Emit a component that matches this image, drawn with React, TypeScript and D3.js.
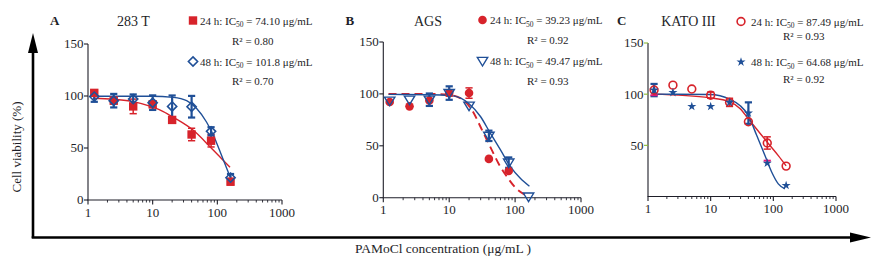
import React from "react";
import * as d3 from "d3";

// ---------- data ----------
const concentrations = [1.25, 2.5, 5, 10, 20, 40, 80, 160];
const xTickValues = [1, 10, 100, 1000];
const xTickLabels = ["1", "10", "100", "1000"];
const yTickValues = [0, 50, 100, 150];

// Panel A – 283 T
const a24Values = [103, 95.5, 90, 92, 77, 63, 57, 17.6];
const a24Errors = [3, 3, 7, 3, 3, 6, 6, 3];
const a48Values = [99.4, 95.5, 97, 93.6, 90, 89.7, 66, 21.5];
const a48Errors = [5, 6.5, 4.5, 7, 10.5, 10.4, 4, 3.5];
const aFit24Conc = [1.2, 2.46, 5, 9.6, 14.6, 20.9, 42.5, 77, 157];
const aFit24Values = [97.8, 96.8, 94.6, 89.7, 85, 79.5, 67, 51.3, 31.4];
const aFit48Conc = [1.2, 9.6, 20.9, 33.5, 47.9, 68, 86.5, 116, 157];
const aFit48Values = [99.8, 99.8, 98.7, 95.5, 88, 75, 62.5, 43, 22.4];

// Panel B – AGS
const b24Values = [92.2, 88, 93.7, 100.8, 100.8, 37.4, 25.8, null];
const b24Errors = [0, 0, 0, 3, 5, 0, 0, 0];
const b48Values = [93.4, 94.4, 94.4, 100.8, 88.6, 59.6, 33.8, 1];
const b48Errors = [0, 0, 6, 6.5, 0, 5, 5, 0];
const bFit24Conc = [1.2, 5, 10, 14.7, 22, 31.4, 42, 56, 75.5, 100, 143];
const bFit24Values = [100, 100, 99, 96, 84.7, 65.4, 49, 33, 20, 10, 2.6];
const bFit48Conc = [1.2, 5, 10, 15, 20, 30, 42, 60, 85, 120, 165];
const bFit48Values = [99.5, 99.2, 98.6, 96, 90.5, 78, 62.2, 46, 30, 18.7, 11];

// Panel C – KATO III
const c24Values = [104, 108.8, 105, 99, 92, 73, 52.3, 29.7];
const c24Errors = [0, 0, 0, 3, 4, 0, 6, 0];
const c48Values = [104, 101.6, 88, 88, 92, 81.5, 32.6, 10.8];
const c48Errors = [6, 0, 0, 0, 0, 10.5, 0, 0];
const cFit24Conc = [1.2, 9.7, 20.3, 29.3, 39.8, 54, 80, 120, 160];
const cFit24Values = [100, 96.4, 92.5, 86, 76, 66, 53, 40, 30];
const cFit48Conc = [1.2, 9.7, 20.3, 29.3, 39.8, 54, 73.5, 94, 120, 153];
const cFit48Values = [100, 99.7, 95, 89, 79.4, 60, 40, 24, 12.4, 7.5];
const cMagentaCapConc = [1.25, 80];
const cMagentaCapValues = [99, 35];

const panelLetters = ["A", "B", "C"];
const panelTitles = ["283 T", "AGS", "KATO III"];
const ic50_24 = ["74.10", "39.23", "87.49"];
const ic50_48 = ["101.8", "49.47", "64.68"];
const r2_24 = ["0.80", "0.92", "0.93"];
const r2_48 = ["0.70", "0.93", "0.92"];

// ---------- styles ----------
const RED = "#d7232b";
const BLUE = "#1f4f97";
const MAGENTA = "#e3177d";
const GREEN = "#8ab832";
const INK = "#1e1e28";
const FONT = "'Liberation Serif', 'Times New Roman', serif";

type PanelCfg = {
  x0: number; x1: number; yTop: number; yBot: number;
  v24: (number | null)[]; e24: number[]; v48: (number | null)[]; e48: number[];
  f24c: number[]; f24v: number[]; f48c: number[]; f48v: number[];
  m24: string; m48: string; dashed24: boolean;
  letterX: number; titleX: number; legMarkX: number; legTextX: number; r2X: number;
  legY: number[]; zeroLabel: boolean; yTickColor: string;
};

const panels: PanelCfg[] = [
  {
    x0: 88, x1: 282, yTop: 44, yBot: 200,
    v24: a24Values, e24: a24Errors, v48: a48Values, e48: a48Errors,
    f24c: aFit24Conc, f24v: aFit24Values, f48c: aFit48Conc, f48v: aFit48Values,
    m24: "square", m48: "diamond", dashed24: false,
    letterX: 50, titleX: 133.5, legMarkX: 193, legTextX: 200, r2X: 232,
    legY: [24.5, 44.5, 65.5, 84.5], zeroLabel: true, yTickColor: INK,
  },
  {
    x0: 383.3, x1: 581, yTop: 42, yBot: 197.7,
    v24: b24Values, e24: b24Errors, v48: b48Values, e48: b48Errors,
    f24c: bFit24Conc, f24v: bFit24Values, f48c: bFit48Conc, f48v: bFit48Values,
    m24: "dot", m48: "tri", dashed24: true,
    letterX: 345.5, titleX: 428, legMarkX: 482.5, legTextX: 490, r2X: 527,
    legY: [24, 43.5, 65, 84.5], zeroLabel: true, yTickColor: INK,
  },
  {
    x0: 648, x1: 836, yTop: 43, yBot: 196.5,
    v24: c24Values, e24: c24Errors, v48: c48Values, e48: c48Errors,
    f24c: cFit24Conc, f24v: cFit24Values, f48c: cFit48Conc, f48v: cFit48Values,
    m24: "ring", m48: "star", dashed24: false,
    letterX: 617, titleX: 688.5, legMarkX: 741, legTextX: 751, r2X: 783,
    legY: [25.5, 39.5, 66, 83], zeroLabel: false, yTickColor: GREEN,
  },
];

function Marker({ type, x, y }: { type: string; x: number; y: number }) {
  switch (type) {
    case "square":
      return <rect x={x - 4.2} y={y - 4.2} width={8.4} height={8.4} fill={RED} />;
    case "diamond":
      return (
        <path d={`M${x},${y - 4.6}L${x + 4.6},${y}L${x},${y + 4.6}L${x - 4.6},${y}Z`}
          fill="none" stroke={BLUE} strokeWidth={1.6} />
      );
    case "dot":
      return <circle cx={x} cy={y} r={4.3} fill={RED} />;
    case "tri":
      return (
        <path d={`M${x - 5.2},${y - 3.6}L${x + 5.2},${y - 3.6}L${x},${y + 5}Z`}
          fill="none" stroke={BLUE} strokeWidth={1.4} />
      );
    case "ring":
      return <circle cx={x} cy={y} r={3.9} fill="none" stroke={RED} strokeWidth={1.6} />;
    case "star":
      return (
        <path d={d3.symbol().type(d3.symbolStar).size(26)() as string}
          transform={`translate(${x},${y})`} fill={BLUE} />
      );
    default:
      return null;
  }
}

function ErrorBars({ vals, errs, xs, ys, color, w }: any) {
  return (
    <g stroke={color} strokeWidth={w} fill="none">
      {concentrations.map((c, i) => {
        const v = vals[i];
        const e = errs[i];
        if (v == null || !e) return null;
        const x = xs(c);
        const yHi = ys(v + e);
        const yLo = ys(v - e);
        return (
          <g key={i}>
            <line x1={x} x2={x} y1={yHi} y2={yLo} />
            <line x1={x - 3.6} x2={x + 3.6} y1={yHi} y2={yHi} />
            <line x1={x - 3.6} x2={x + 3.6} y1={yLo} y2={yLo} />
          </g>
        );
      })}
    </g>
  );
}

function Panel({ p, idx }: { p: PanelCfg; idx: number }) {
  const xs = d3.scaleLog().domain([1, 1000]).range([p.x0, p.x1]);
  const ys = d3.scaleLinear().domain([0, 150]).range([p.yBot, p.yTop]);
  const line = d3
    .line<[number, number]>()
    .x((d) => xs(d[0]))
    .y((d) => ys(d[1]))
    .curve(d3.curveMonotoneX);
  const fit24 = line(p.f24c.map((c, i) => [c, p.f24v[i]] as [number, number])) as string;
  const fit48 = line(p.f48c.map((c, i) => [c, p.f48v[i]] as [number, number])) as string;

  const minor: number[] = [];
  [1, 10, 100].forEach((dec) => {
    for (let k = 2; k <= 9; k++) minor.push(dec * k);
  });

  const legMarkerY = [p.legY[0] - 4, p.legY[2] - 4];

  return (
    <g>
      {/* axes */}
      <g stroke={INK} strokeWidth={1.1}>
        <line x1={p.x0} x2={p.x0} y1={p.yTop} y2={p.yBot} />
        <line x1={p.x0 - 0.5} x2={p.x1} y1={p.yBot} y2={p.yBot} />
        {xTickValues.map((t) => (
          <line key={t} x1={xs(t)} x2={xs(t)} y1={p.yBot} y2={p.yBot + 4.5} />
        ))}
        {minor.map((t) => (
          <line key={t} x1={xs(t)} x2={xs(t)} y1={p.yBot} y2={p.yBot + 2.5} strokeWidth={0.9} />
        ))}
      </g>
      <g stroke={p.yTickColor} strokeWidth={1.1}>
        {yTickValues.map((t) =>
          !p.zeroLabel && t === 0 ? null : (
            <line key={t} x1={p.x0 - 4} x2={p.x0} y1={ys(t)} y2={ys(t)} />
          )
        )}
      </g>
      <g fontFamily={FONT} fontSize={13} fill={INK}>
        {yTickValues.map((t) =>
          !p.zeroLabel && t === 0 ? null : (
            <text key={t} x={p.x0 - 4.5} y={ys(t)} dy="0.34em" textAnchor="end">
              {t}
            </text>
          )
        )}
        {xTickValues.map((t, i) => (
          <text key={t} x={xs(t)} y={p.yBot + 16.5} textAnchor="middle">
            {xTickLabels[i]}
          </text>
        ))}
      </g>

      {/* fitted curves */}
      <path d={fit24} fill="none" stroke={RED} strokeWidth={p.dashed24 ? 1.9 : 1.4}
        strokeDasharray={p.dashed24 ? "8,5" : undefined} />
      <path d={fit48} fill="none" stroke={BLUE} strokeWidth={1.4} />

      {/* error bars */}
      <ErrorBars vals={p.v24} errs={p.e24} xs={xs} ys={ys} color={RED} w={1.5} />
      <ErrorBars vals={p.v48} errs={p.e48} xs={xs} ys={ys} color={BLUE} w={2.2} />
      {idx === 2 &&
        cMagentaCapConc.map((c, i) => (
          <line key={i} x1={xs(c) - 3.6} x2={xs(c) + 3.6} y1={ys(cMagentaCapValues[i])}
            y2={ys(cMagentaCapValues[i])} stroke={MAGENTA} strokeWidth={2} />
        ))}

      {/* points */}
      {concentrations.map((c, i) =>
        p.v24[i] == null ? null : <Marker key={"r" + i} type={p.m24} x={xs(c)} y={ys(p.v24[i] as number)} />
      )}
      {concentrations.map((c, i) =>
        p.v48[i] == null ? null : <Marker key={"b" + i} type={p.m48} x={xs(c)} y={ys(p.v48[i] as number)} />
      )}

      {/* titles */}
      <text x={p.letterX} y={24.5} fontFamily={FONT} fontSize={13} fontWeight="bold" fill={INK}>
        {panelLetters[idx]}
      </text>
      <text x={p.titleX} y={26} fontFamily={FONT} fontSize={14} textAnchor="middle" fill={INK}>
        {panelTitles[idx]}
      </text>

      {/* legend */}
      <Marker type={p.m24} x={p.legMarkX} y={legMarkerY[0]} />
      <Marker type={p.m48} x={p.legMarkX} y={legMarkerY[1]} />
      <g fontFamily={FONT} fontSize={11} fill={INK}>
        <text x={p.legTextX} y={p.legY[0]}>
          24 h: IC<tspan fontSize={7.5} dy={2.5}>50</tspan>
          <tspan dy={-2.5}>{` = ${ic50_24[idx]} μg/mL`}</tspan>
        </text>
        <text x={p.r2X} y={p.legY[1]}>{`R² = ${r2_24[idx]}`}</text>
        <text x={p.legTextX} y={p.legY[2]}>
          48 h: IC<tspan fontSize={7.5} dy={2.5}>50</tspan>
          <tspan dy={-2.5}>{` = ${ic50_48[idx]} μg/mL`}</tspan>
        </text>
        <text x={p.r2X} y={p.legY[3]}>{`R² = ${r2_48[idx]}`}</text>
      </g>
    </g>
  );
}

export default function App() {
  return (
    <svg width={880} height={264} viewBox="0 0 880 264"
      style={{ position: "absolute", left: 0, top: 0, background: "#fff" }}>
      <rect width={880} height={264} fill="#fff" />
      {/* frame arrows */}
      <line x1={33} x2={33} y1={238} y2={50} stroke="#000" strokeWidth={2.6} />
      <path d="M33,33L38,53L28,53Z" fill="#000" />
      <line x1={31.7} x2={854} y1={237.5} y2={237.5} stroke="#000" strokeWidth={2.6} />
      <path d="M871,237.5L850,232.5L850,242.5Z" fill="#000" />
      <text transform="translate(21,147) rotate(-90)" textAnchor="middle"
        fontFamily={FONT} fontSize={13} fill={INK}>
        Cell viability (%)
      </text>
      <text x={443} y={252.5} textAnchor="middle" fontFamily={FONT} fontSize={13.5} fill={INK}>
        PAMoCl concentration (μg/mL )
      </text>
      {panels.map((p, i) => (
        <Panel key={i} p={p} idx={i} />
      ))}
    </svg>
  );
}
